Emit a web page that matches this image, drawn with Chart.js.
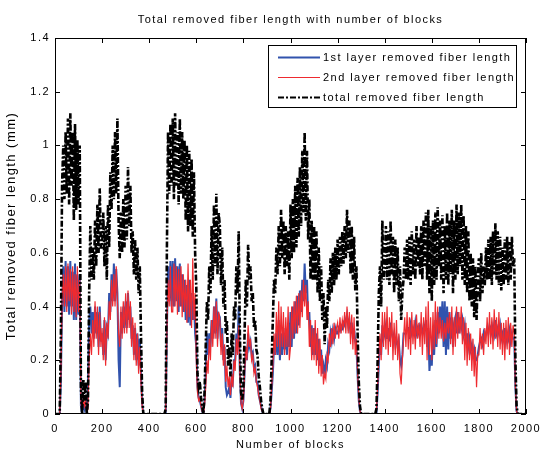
<!DOCTYPE html>
<html>
<head>
<meta charset="utf-8">
<title>Removed fiber length</title>
<script src="https://cdn.jsdelivr.net/npm/chart.js@4"></script>
<style>
  html, body { margin: 0; padding: 0; background: #fff; }
  #wrap { width: 542px; height: 450px; }
</style>
</head>
<body>
<div id="wrap"><canvas id="fiberChart" width="542" height="450"></canvas></div>
<script>
// block index, sampled every 5 blocks (one row below = 100 blocks)
const blocks = Array.from({ length: 400 }, (_, i) => i * 5);

// 1st layer removed fiber length (mm)
const layer1 = [
  0, 0, 0, 0, 0, 0.12, 0.40, 0.55, 0.38, 0.57, 0.40, 0.55, 0.37, 0.57, 0.40, 0.53, 0.35, 0.56, 0.35, 0.52,
  0.37, 0.52, 0.03, 0, 0.05, 0.02, 0.04, 0, 0.10, 0.35, 0.40, 0.30, 0.38, 0.28, 0.40, 0.30, 0.38, 0.25, 0.40, 0.27,
  0.30, 0.22, 0.35, 0.20, 0.32, 0.30, 0.45, 0.38, 0.52, 0.42, 0.56, 0.42, 0.54, 0.45, 0.20, 0.10, 0.38, 0.30, 0.40, 0.32,
  0.42, 0.32, 0.45, 0.35, 0.40, 0.28, 0.33, 0.22, 0.32, 0.20, 0.30, 0.18, 0.28, 0.15, 0.04, 0, 0, 0, 0, 0,
  0, 0, 0, 0, 0, 0, 0, 0, 0, 0, 0, 0, 0, 0, 0, 0.30, 0.55, 0.42, 0.57, 0.40,
  0.57, 0.40, 0.58, 0.42, 0.55, 0.38, 0.56, 0.40, 0.52, 0.38, 0.50, 0.35, 0.48, 0.34, 0.50, 0.33, 0.45, 0.35, 0.42, 0.30,
  0.25, 0.10, 0.06, 0.05, 0.03, 0.01, 0, 0.05, 0.15, 0.30, 0.22, 0.30, 0.25, 0.35, 0.28, 0.40, 0.30, 0.43, 0.28, 0.37,
  0.36, 0.25, 0.32, 0.20, 0.25, 0.10, 0.07, 0.08, 0.10, 0.06, 0.14, 0.12, 0.20, 0.20, 0.30, 0.25, 0.40, 0.15, 0.04, 0.02,
  0.05, 0.15, 0.25, 0.20, 0.30, 0.25, 0.27, 0.22, 0.23, 0.17, 0.18, 0.12, 0.12, 0.07, 0.05, 0.03, 0.01, 0, 0, 0,
  0, 0, 0, 0.02, 0.08, 0.15, 0.25, 0.22, 0.30, 0.22, 0.35, 0.20, 0.30, 0.22, 0.32, 0.24, 0.30, 0.22, 0.34, 0.25,
  0.38, 0.25, 0.40, 0.28, 0.42, 0.30, 0.44, 0.33, 0.46, 0.38, 0.50, 0.42, 0.56, 0.45, 0.50, 0.35, 0.38, 0.25, 0.33, 0.22,
  0.32, 0.22, 0.30, 0.20, 0.28, 0.18, 0.24, 0.15, 0.18, 0.14, 0.20, 0.18, 0.26, 0.24, 0.30, 0.27, 0.31, 0.28, 0.32, 0.30,
  0.30, 0.32, 0.31, 0.33, 0.32, 0.34, 0.33, 0.35, 0.37, 0.33, 0.35, 0.30, 0.34, 0.28, 0.32, 0.27, 0.25, 0.14, 0.05, 0.01,
  0, 0, 0, 0, 0, 0, 0, 0, 0, 0, 0, 0, 0, 0, 0.08, 0.18, 0.28, 0.22, 0.33, 0.28,
  0.30, 0.33, 0.28, 0.32, 0.27, 0.34, 0.30, 0.28, 0.30, 0.26, 0.28, 0.25, 0.27, 0.20, 0.18, 0.22, 0.30, 0.30, 0.30, 0.32,
  0.32, 0.28, 0.33, 0.30, 0.32, 0.30, 0.34, 0.30, 0.32, 0.30, 0.33, 0.32, 0.30, 0.33, 0.32, 0.35, 0.25, 0.32, 0.16, 0.22,
  0.18, 0.30, 0.22, 0.35, 0.25, 0.38, 0.30, 0.40, 0.32, 0.42, 0.25, 0.42, 0.22, 0.40, 0.24, 0.38, 0.28, 0.36, 0.25, 0.34,
  0.36, 0.30, 0.38, 0.30, 0.36, 0.32, 0.35, 0.30, 0.33, 0.26, 0.30, 0.25, 0.28, 0.24, 0.26, 0.22, 0.24, 0.20, 0.20, 0.22,
  0.25, 0.27, 0.28, 0.26, 0.30, 0.28, 0.30, 0.32, 0.30, 0.33, 0.32, 0.30, 0.33, 0.30, 0.35, 0.30, 0.32, 0.30, 0.33, 0.28,
  0.30, 0.28, 0.32, 0.27, 0.30, 0.28, 0.31, 0.27, 0.30, 0.28, 0.28, 0.10, 0.01, 0, 0, 0, 0, 0, 0, 0
];

// 2nd layer removed fiber length (mm)
const layer2 = [
  0, 0, 0, 0, 0, 0.15, 0.42, 0.52, 0.40, 0.55, 0.38, 0.56, 0.42, 0.54, 0.37, 0.55, 0.38, 0.52, 0.36, 0.55,
  0.38, 0.50, 0.05, 0, 0.06, 0.03, 0.05, 0, 0.02, 0.20, 0.30, 0.22, 0.35, 0.25, 0.42, 0.28, 0.40, 0.22, 0.38, 0.25,
  0.32, 0.20, 0.36, 0.18, 0.34, 0.28, 0.42, 0.35, 0.50, 0.40, 0.52, 0.40, 0.55, 0.42, 0.30, 0.25, 0.40, 0.28, 0.42, 0.30,
  0.45, 0.30, 0.46, 0.32, 0.42, 0.25, 0.36, 0.20, 0.34, 0.18, 0.30, 0.15, 0.25, 0.12, 0.03, 0, 0, 0, 0, 0,
  0, 0, 0, 0, 0, 0, 0, 0, 0, 0, 0, 0, 0, 0, 0.01, 0.30, 0.50, 0.40, 0.55, 0.38,
  0.38, 0.56, 0.40, 0.55, 0.37, 0.54, 0.40, 0.55, 0.36, 0.52, 0.38, 0.50, 0.34, 0.56, 0.36, 0.50, 0.32, 0.58, 0.35, 0.45,
  0.20, 0.08, 0.05, 0.06, 0.03, 0.01, 0, 0.03, 0.10, 0.20, 0.15, 0.28, 0.20, 0.35, 0.25, 0.40, 0.28, 0.42, 0.25, 0.38,
  0.35, 0.22, 0.30, 0.18, 0.26, 0.12, 0.18, 0.10, 0.14, 0.07, 0.15, 0.10, 0.20, 0.16, 0.28, 0.22, 0.33, 0.15, 0.04, 0.02,
  0.05, 0.15, 0.25, 0.20, 0.33, 0.25, 0.28, 0.20, 0.22, 0.15, 0.17, 0.12, 0.10, 0.07, 0.05, 0.02, 0.01, 0, 0, 0,
  0, 0, 0, 0.02, 0.10, 0.18, 0.30, 0.22, 0.38, 0.25, 0.42, 0.22, 0.40, 0.25, 0.38, 0.22, 0.36, 0.25, 0.40, 0.20,
  0.25, 0.40, 0.28, 0.42, 0.30, 0.44, 0.30, 0.45, 0.32, 0.46, 0.36, 0.50, 0.40, 0.48, 0.35, 0.42, 0.25, 0.35, 0.20, 0.32,
  0.20, 0.35, 0.18, 0.32, 0.15, 0.28, 0.14, 0.22, 0.11, 0.15, 0.13, 0.22, 0.20, 0.30, 0.25, 0.32, 0.26, 0.34, 0.28, 0.32,
  0.34, 0.28, 0.36, 0.30, 0.35, 0.32, 0.38, 0.30, 0.40, 0.30, 0.38, 0.26, 0.37, 0.24, 0.36, 0.22, 0.28, 0.15, 0.06, 0.01,
  0, 0, 0, 0, 0, 0, 0, 0, 0, 0, 0, 0, 0, 0.01, 0.10, 0.22, 0.30, 0.20, 0.38, 0.25,
  0.38, 0.24, 0.40, 0.22, 0.36, 0.25, 0.38, 0.20, 0.34, 0.22, 0.35, 0.20, 0.30, 0.15, 0.11, 0.20, 0.28, 0.36, 0.25, 0.38,
  0.24, 0.36, 0.22, 0.38, 0.26, 0.35, 0.24, 0.37, 0.28, 0.34, 0.25, 0.38, 0.22, 0.36, 0.26, 0.40, 0.20, 0.42, 0.22, 0.36,
  0.20, 0.38, 0.24, 0.42, 0.26, 0.40, 0.28, 0.36, 0.28, 0.35, 0.27, 0.34, 0.28, 0.36, 0.30, 0.38, 0.26, 0.40, 0.22, 0.36,
  0.25, 0.40, 0.28, 0.38, 0.30, 0.40, 0.26, 0.36, 0.20, 0.34, 0.18, 0.32, 0.20, 0.30, 0.16, 0.28, 0.14, 0.25, 0.10, 0.22,
  0.22, 0.32, 0.24, 0.30, 0.22, 0.32, 0.26, 0.36, 0.25, 0.38, 0.26, 0.36, 0.24, 0.39, 0.28, 0.36, 0.25, 0.38, 0.24, 0.34,
  0.22, 0.34, 0.20, 0.35, 0.24, 0.36, 0.22, 0.34, 0.25, 0.33, 0.30, 0.10, 0.01, 0, 0, 0, 0, 0, 0, 0
];

// total removed fiber length (mm)
const total = [
  0, 0, 0, 0, 0, 0.30, 0.85, 1.00, 0.80, 1.05, 0.82, 1.10, 0.78, 1.12, 0.85, 1.05, 0.72, 1.08, 0.76, 1.02,
  0.78, 1.00, 0.10, 0, 0.13, 0.05, 0.12, 0, 0.05, 0.45, 0.70, 0.50, 0.62, 0.50, 0.72, 0.55, 0.78, 0.60, 0.84, 0.62,
  0.62, 0.75, 0.55, 0.70, 0.50, 0.78, 0.62, 0.90, 0.76, 1.00, 0.80, 1.05, 0.82, 1.10, 0.72, 0.58, 0.75, 0.60, 0.80, 0.62,
  0.85, 0.65, 0.92, 0.70, 0.85, 0.60, 0.68, 0.52, 0.65, 0.50, 0.62, 0.45, 0.55, 0.30, 0.08, 0, 0, 0, 0, 0,
  0, 0, 0, 0, 0, 0, 0, 0, 0, 0, 0, 0, 0, 0, 0.02, 0.60, 1.05, 0.82, 1.08, 0.85,
  1.10, 0.80, 1.12, 0.85, 1.05, 0.78, 1.10, 0.82, 1.05, 0.80, 1.02, 0.72, 1.00, 0.68, 0.98, 0.70, 0.95, 0.66, 0.90, 0.60,
  0.47, 0.15, 0.10, 0.12, 0.06, 0.03, 0, 0.08, 0.25, 0.42, 0.35, 0.55, 0.45, 0.70, 0.50, 0.78, 0.55, 0.82, 0.52, 0.75,
  0.70, 0.48, 0.62, 0.40, 0.50, 0.30, 0.35, 0.18, 0.25, 0.14, 0.30, 0.22, 0.40, 0.35, 0.55, 0.45, 0.68, 0.30, 0.08, 0.05,
  0.10, 0.30, 0.50, 0.40, 0.63, 0.50, 0.55, 0.42, 0.45, 0.32, 0.35, 0.24, 0.22, 0.14, 0.10, 0.05, 0.02, 0, 0, 0,
  0, 0, 0, 0.05, 0.20, 0.35, 0.50, 0.45, 0.62, 0.52, 0.70, 0.55, 0.76, 0.58, 0.72, 0.52, 0.70, 0.55, 0.68, 0.50,
  0.78, 0.58, 0.80, 0.60, 0.85, 0.62, 0.88, 0.66, 0.92, 0.70, 0.98, 0.75, 1.05, 0.72, 0.98, 0.65, 0.80, 0.50, 0.72, 0.50,
  0.70, 0.50, 0.68, 0.45, 0.62, 0.42, 0.55, 0.35, 0.45, 0.26, 0.40, 0.32, 0.50, 0.42, 0.58, 0.45, 0.60, 0.48, 0.62, 0.50,
  0.65, 0.52, 0.66, 0.55, 0.68, 0.56, 0.70, 0.58, 0.76, 0.60, 0.72, 0.52, 0.70, 0.50, 0.66, 0.46, 0.55, 0.30, 0.12, 0.03,
  0, 0, 0, 0, 0, 0, 0, 0, 0, 0, 0, 0, 0, 0.02, 0.20, 0.45, 0.55, 0.40, 0.72, 0.50,
  0.55, 0.70, 0.50, 0.68, 0.48, 0.72, 0.52, 0.66, 0.45, 0.65, 0.48, 0.62, 0.42, 0.55, 0.35, 0.45, 0.50, 0.62, 0.50, 0.65,
  0.50, 0.66, 0.48, 0.68, 0.52, 0.65, 0.50, 0.70, 0.55, 0.66, 0.52, 0.70, 0.50, 0.72, 0.55, 0.75, 0.50, 0.76, 0.45, 0.70,
  0.42, 0.72, 0.48, 0.75, 0.50, 0.77, 0.55, 0.72, 0.50, 0.74, 0.45, 0.70, 0.50, 0.75, 0.48, 0.72, 0.52, 0.76, 0.45, 0.72,
  0.50, 0.78, 0.52, 0.75, 0.55, 0.78, 0.50, 0.74, 0.48, 0.70, 0.45, 0.68, 0.42, 0.60, 0.40, 0.58, 0.36, 0.55, 0.35, 0.50,
  0.58, 0.42, 0.60, 0.45, 0.55, 0.48, 0.62, 0.50, 0.65, 0.50, 0.66, 0.48, 0.68, 0.52, 0.71, 0.50, 0.68, 0.48, 0.66, 0.46,
  0.62, 0.48, 0.65, 0.50, 0.66, 0.48, 0.64, 0.50, 0.66, 0.55, 0.58, 0.20, 0.03, 0, 0, 0, 0, 0, 0, 0
];

const xTicks = [0, 200, 400, 600, 800, 1000, 1200, 1400, 1600, 1800, 2000];
const xTickLabels = ['0', '200', '400', '600', '800', '1000', '1200', '1400', '1600', '1800', '2000'];
const yTicks = [0, 0.2, 0.4, 0.6, 0.8, 1, 1.2, 1.4];
const yTickLabels = ['0', '0.2', '0.4', '0.6', '0.8', '1', '1.2', '1.4'];

const chartTitle = 'Total removed fiber length with number of blocks';

const FONT = '"Liberation Sans", Arial, Helvetica, sans-serif';
const SPACING = '1.45px';

const toPoints = vals => blocks.map((b, i) => ({ x: b, y: vals[i] }));

// wide, matlab-like text spacing on every label
const spacing = {
  id: 'spacing',
  beforeUpdate(chart) { chart.ctx.letterSpacing = SPACING; },
  beforeDraw(chart) { chart.ctx.letterSpacing = SPACING; }
};

// title centred over the plot box
const plotTitle = {
  id: 'plotTitle',
  afterDraw(chart) {
    const { ctx, chartArea: a } = chart;
    ctx.save();
    ctx.font = '11px ' + FONT;
    ctx.letterSpacing = SPACING;
    ctx.fillStyle = '#000';
    ctx.textAlign = 'center';
    ctx.textBaseline = 'middle';
    ctx.fillText(chartTitle, (a.left + a.right) / 2, 20);
    ctx.restore();
  }
};

// box around the plot with inward ticks on all four sides
const frameTicks = {
  id: 'frameTicks',
  afterDatasetsDraw(chart) {
    const { ctx, chartArea: a, scales: { x, y } } = chart;
    ctx.save();
    ctx.strokeStyle = '#000';
    ctx.lineWidth = 1;
    ctx.setLineDash([]);
    ctx.strokeRect(a.left + 0.5, a.top + 0.5, a.right - a.left - 1, a.bottom - a.top - 1);
    ctx.beginPath();
    xTicks.forEach(v => {
      const px = Math.round(x.getPixelForValue(v)) + 0.5;
      ctx.moveTo(px, a.bottom); ctx.lineTo(px, a.bottom - 5);
      ctx.moveTo(px, a.top); ctx.lineTo(px, a.top + 5);
    });
    yTicks.forEach(v => {
      const py = Math.round(y.getPixelForValue(v)) + 0.5;
      ctx.moveTo(a.left, py); ctx.lineTo(a.left + 5, py);
      ctx.moveTo(a.right, py); ctx.lineTo(a.right - 5, py);
    });
    ctx.stroke();
    ctx.restore();
  }
};

// legend in a framed box at the top right of the plot
const boxLegend = {
  id: 'boxLegend',
  afterDraw(chart) {
    const { ctx, chartArea: a } = chart;
    const w = 248, h = 62;
    const left = a.right - 10 - w, top = a.top + 7;
    ctx.save();
    ctx.fillStyle = '#fff';
    ctx.fillRect(left, top, w, h);
    ctx.strokeStyle = '#000';
    ctx.lineWidth = 1;
    ctx.strokeRect(left + 0.5, top + 0.5, w, h);
    ctx.font = '11px ' + FONT;
    ctx.letterSpacing = SPACING;
    ctx.textBaseline = 'middle';
    ctx.fillStyle = '#000';
    chart.data.datasets.forEach((ds, i) => {
      const ly = top + 12.5 + i * 20;
      ctx.beginPath();
      ctx.strokeStyle = ds.borderColor;
      ctx.lineWidth = Math.min(ds.borderWidth, 2);
      ctx.setLineDash(ds.borderDash || []);
      ctx.moveTo(left + 10, ly);
      ctx.lineTo(left + 52, ly);
      ctx.stroke();
      ctx.fillText(ds.label, left + 55, ly);
    });
    ctx.restore();
  }
};

new Chart(document.getElementById('fiberChart'), {
  type: 'line',
  data: {
    datasets: [
      {
        label: '1st layer removed fiber length',
        data: toPoints(layer1),
        borderColor: '#3153ad',
        borderWidth: 2,
        order: 3
      },
      {
        label: '2nd layer removed fiber length',
        data: toPoints(layer2),
        borderColor: '#ee2a2f',
        borderWidth: 1.2,
        order: 2
      },
      {
        label: 'total removed fiber length',
        data: toPoints(total),
        borderColor: '#000',
        borderWidth: 2.6,
        borderDash: [6, 2, 2, 2],
        order: 1
      }
    ]
  },
  options: {
    responsive: false,
    animation: false,
    devicePixelRatio: 1,
    layout: { padding: { top: 38, right: 16, bottom: 0, left: 0 } },
    elements: {
      point: { radius: 0 },
      line: { tension: 0, fill: false }
    },
    plugins: {
      legend: { display: false },
      tooltip: { enabled: false },
      title: { display: false }
    },
    scales: {
      x: {
        type: 'linear',
        min: 0,
        max: 2000,
        afterBuildTicks: s => { s.ticks = xTicks.map(v => ({ value: v })); },
        afterFit: s => {
          s.height = 36;
          s.paddingLeft = 0;
          s.paddingRight = 0;
        },
        grid: { display: false, drawTicks: false },
        border: { display: false },
        ticks: {
          color: '#000',
          padding: 8,
          maxRotation: 0,
          autoSkip: false,
          font: { family: FONT, size: 11 },
          callback: (v, i) => xTickLabels[i]
        },
        title: {
          display: true,
          text: 'Number of blocks',
          color: '#000',
          font: { family: FONT, size: 11 },
          padding: { top: 0, bottom: -2 }
        }
      },
      y: {
        min: 0,
        max: 1.4,
        afterBuildTicks: s => { s.ticks = yTicks.map(v => ({ value: v })); },
        afterFit: s => {
          s.width = 55;
          s.paddingTop = 0;
          s.paddingBottom = 0;
        },
        grid: { display: false, drawTicks: false },
        border: { display: false },
        ticks: {
          color: '#000',
          padding: 5,
          autoSkip: false,
          font: { family: FONT, size: 11 },
          callback: (v, i) => yTickLabels[i]
        },
        title: {
          display: true,
          text: 'Total removed fiber length (mm)',
          color: '#000',
          font: { family: FONT, size: 13 },
          padding: { top: 4, bottom: 0 }
        }
      }
    }
  },
  plugins: [spacing, plotTitle, frameTicks, boxLegend]
});
</script>
</body>
</html>
